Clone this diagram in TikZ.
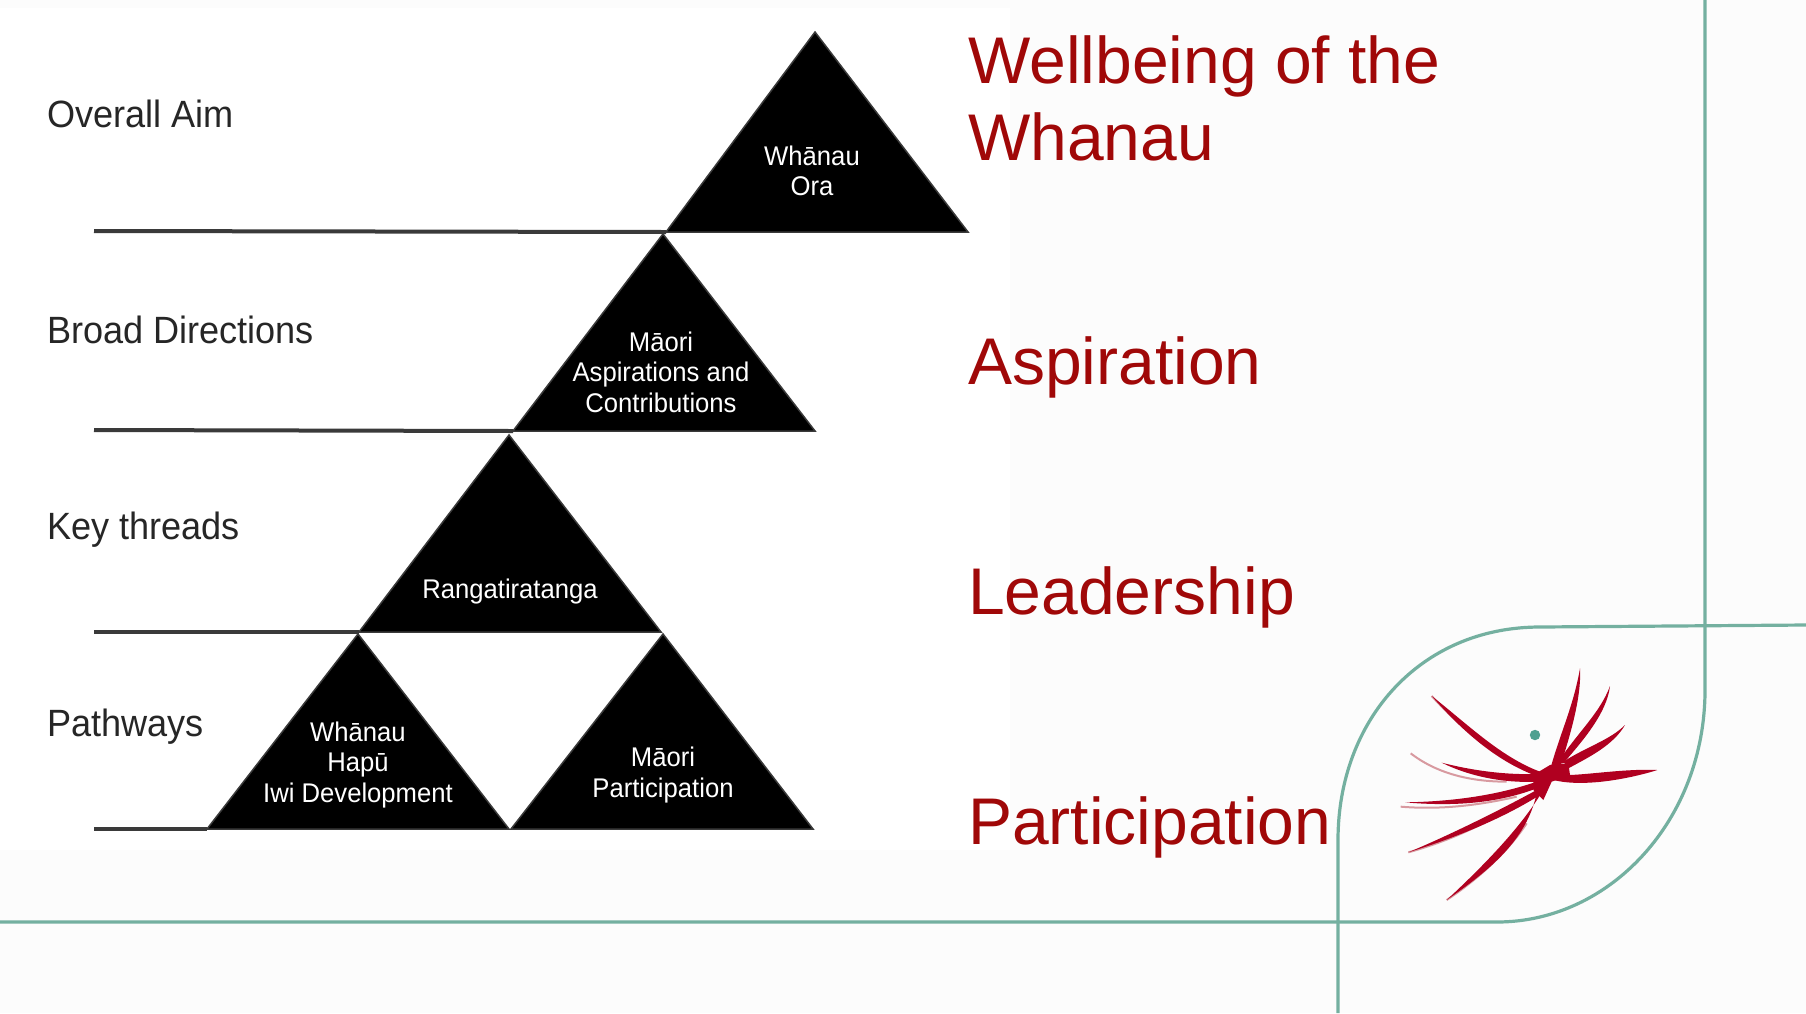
\documentclass[tikz,border=0pt]{standalone}
\usepackage{fontspec}
\setmainfont{Liberation Sans}
\definecolor{frame}{HTML}{74B0A0}
\definecolor{teal2}{HTML}{4FA090}
\definecolor{crimson}{HTML}{B00020}
\definecolor{pinkline}{HTML}{D89AA0}
\definecolor{headred}{HTML}{A00808}
\definecolor{rulegray}{HTML}{3A3A3A}
\tikzset{
  tri/.style={fill=black,draw=rulegray,line width=1.5pt,line join=miter},
  level/.style={rulegray,line width=4pt},
  side/.style={anchor=west,font=\fontsize{38}{38}\selectfont,text=black!85,inner sep=0pt,xscale=.95},
  inner/.style={align=center,text=white,font=\fontsize{27}{30.5}\selectfont,inner sep=0pt,xscale=.95},
  head/.style={anchor=west,align=left,text=headred,font=\fontsize{66}{77}\selectfont,inner sep=0pt},
  frameline/.style={frame,line width=3.2pt},
  feather/.style={fill=crimson,draw=none},
  wisp/.style={pinkline,line width=2pt}
}
\begin{document}
\begin{tikzpicture}[x=1pt,y=-1pt]
\useasboundingbox (0,0) rectangle (1806,1013);
\fill[white!99!black] (0,0) rectangle (1806,1013);
\fill[white] (0,8) rectangle (1010,850);
% frame
\draw[frameline] (0,922) -- (1497,922) .. controls (1610,922) and (1705,820) .. (1705,690) -- (1705,0);
\draw[frameline] (1338,1013) -- (1338,840) .. controls (1338,720) and (1420,627) .. (1540,627) -- (1806,625);
% triangles
\coordinate (a1) at (815,32); \coordinate (b1) at (666,232); \coordinate (c1) at (968,232);
\coordinate (a2) at (663,234); \coordinate (b2) at (513,431); \coordinate (c2) at (815,431);
\coordinate (a3) at (509,435); \coordinate (b3) at (359,632); \coordinate (c3) at (661,632);
\coordinate (a4) at (358,634); \coordinate (b4) at (207,829); \coordinate (c4) at (509,829);
\coordinate (a5) at (663,634); \coordinate (b5) at (511,829); \coordinate (c5) at (813,829);
\foreach \t in {1,...,5} \draw[tri] (a\t) -- (b\t) -- (c\t) -- cycle;
% level rules
\coordinate (s1) at (94,231); \coordinate (s2) at (94,430); \coordinate (s3) at (94,632); \coordinate (s4) at (94,829);
\draw[level] (s1) -- (b1);
\draw[level] (s2) -- (b2);
\draw[level] (s3) -- (b3);
\draw[level] (s4) -- (b4);
% left labels
\node[side] (l1) at (47,114) {Overall Aim};
\node[side] (l2) at (47,330) {Broad Directions};
\node[side] (l3) at (47,530) {Key threads};
\node[side] (l4) at (47,727) {Pathways};
% triangle labels
\node[inner] (t1) at (812,171) {Whānau\\Ora};
\node[inner] (t2) at (661,372) {Māori\\Aspirations and\\Contributions};
\node[inner] (t3) at (510,592) {Rangatiratanga};
\node[inner] (t4) at (358,765) {Whānau\\Hapū\\Iwi Development};
\node[inner] (t5) at (663,775) {Māori\\Participation};
% headings
\node[head] (h1) at (968,98) {Wellbeing of the\\Whanau};
\node[head] (h2) at (968,367) {Aspiration};
\node[head] (h3) at (968,597) {Leadership};
\node[head] (h4) at (968,827) {Participation};
% logo
\begin{scope}[shift={(1320,600)},scale=1/3]
\fill[teal2] (645,405) circle[radius=47*1/3];
\draw[wisp] (335,288) .. controls (420,380) and (510,460) .. (620,505);
\draw[wisp] (272,460) .. controls (350,520) and (450,545) .. (560,545);
\draw[wisp] (242,620) .. controls (340,628) and (450,622) .. (590,590);
\draw[wisp] (265,757) .. controls (380,725) and (480,680) .. (600,610);
\draw[wisp] (380,900) .. controls (470,840) and (560,760) .. (620,670);
\fill[feather] (690,510) .. controls (720,400) and (760,320) .. (780,205) .. controls (785,300) and (745,420) .. (718,510) -- cycle;
\fill[feather] (712,490) .. controls (770,400) and (840,340) .. (870,258) .. controls (860,340) and (790,420) .. (730,490) -- cycle;
\fill[feather] (730,485) .. controls (800,440) and (870,420) .. (915,375) .. controls (880,435) and (810,470) .. (745,505) -- cycle;
\fill[feather] (700,525) .. controls (780,530) and (900,505) .. (1012,510) .. controls (950,530) and (800,565) .. (700,540) -- cycle;
\fill[feather] (660,515) .. controls (540,470) and (440,370) .. (335,288) .. controls (420,385) and (530,490) .. (670,535) -- cycle;
\fill[feather] (650,522) .. controls (550,525) and (450,510) .. (365,488) .. controls (440,525) and (540,550) .. (650,545) -- cycle;
\fill[feather] (650,545) .. controls (520,590) and (380,605) .. (255,607) .. controls (380,618) and (520,615) .. (650,565) -- cycle;
\fill[feather] (650,570) .. controls (540,630) and (400,700) .. (265,757) .. controls (400,715) and (540,660) .. (660,585) -- cycle;
\fill[feather] (690,530) .. controls (640,640) and (520,770) .. (380,900) .. controls (510,810) and (620,720) .. (650,580) -- cycle;
\fill[feather] (640,525) -- (690,495) -- (745,490) -- (750,525) -- (695,545) -- (670,600) -- (640,570) -- cycle;
\end{scope}
\end{tikzpicture}
\end{document}
